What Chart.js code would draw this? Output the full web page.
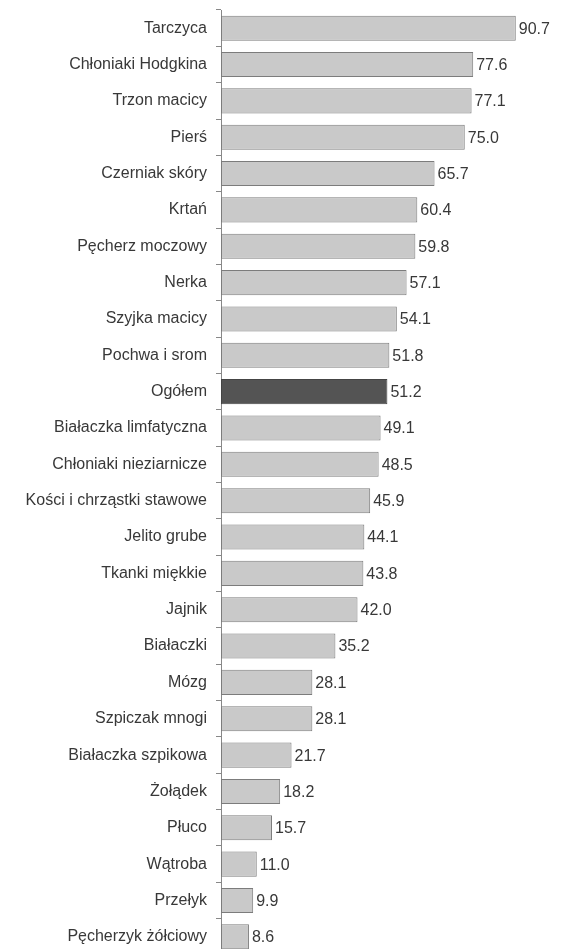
<!DOCTYPE html>
<html lang="pl">
<head>
<meta charset="UTF-8">
<title>Przeżycia 5-letnie</title>
<script src="https://cdn.jsdelivr.net/npm/chart.js"></script>
<style>
  html, body { margin: 0; padding: 0; background: #fff; overflow: hidden; }
  #chart { display: block; }
</style>
</head>
<body>
<canvas id="chart" width="561" height="962"></canvas>
<script>
// dane
const categories = [
  'Tarczyca', 'Chłoniaki Hodgkina', 'Trzon macicy', 'Pierś', 'Czerniak skóry',
  'Krtań', 'Pęcherz moczowy', 'Nerka', 'Szyjka macicy', 'Pochwa i srom',
  'Ogółem', 'Białaczka limfatyczna', 'Chłoniaki nieziarnicze', 'Kości i chrząstki stawowe',
  'Jelito grube', 'Tkanki miękkie', 'Jajnik', 'Białaczki', 'Mózg', 'Szpiczak mnogi',
  'Białaczka szpikowa', 'Żołądek', 'Płuco', 'Wątroba', 'Przełyk', 'Pęcherzyk żółciowy'
];
const values = [
  90.7, 77.6, 77.1, 75.0, 65.7, 60.4, 59.8, 57.1, 54.1, 51.8,
  51.2, 49.1, 48.5, 45.9, 44.1, 43.8, 42.0, 35.2, 28.1, 28.1,
  21.7, 18.2, 15.7, 11.0, 9.9, 8.6
];
const highlight = 'Ogółem';

const barLabels = {
  id: 'barLabels',
  afterDatasetsDraw(chart) {
    const ctx = chart.ctx;
    const meta = chart.getDatasetMeta(0);
    ctx.save();
    ctx.font = '16px "Liberation Sans", Arial, sans-serif';
    ctx.fillStyle = '#383838';
    ctx.textAlign = 'left';
    ctx.textBaseline = 'middle';
    meta.data.forEach((bar, i) => {
      ctx.fillText(values[i].toFixed(1), bar.x + 3, bar.y + 1);
    });
    ctx.restore();
  }
};

new Chart(document.getElementById('chart'), {
  type: 'bar',
  data: {
    labels: categories,
    datasets: [{
      data: values,
      backgroundColor: categories.map(c => c === highlight ? '#545454' : '#c9c9c9'),
      borderColor: categories.map(c => c === highlight ? '#444' : '#7c7c7c'),
      borderWidth: 1,
      borderSkipped: false,
      barPercentage: 0.69,
      categoryPercentage: 1
    }]
  },
  options: {
    indexAxis: 'y',
    responsive: false,
    animation: false,
    layout: { padding: { top: 10, right: 15, bottom: 7, left: 0 } },
    plugins: { legend: { display: false }, tooltip: { enabled: false } },
    scales: {
      x: { display: false, min: 0, max: 100 },
      y: {
        grid: { offset: true, drawOnChartArea: false, tickLength: 5, color: '#888', tickColor: '#888' },
        border: { color: '#888', width: 1 },
        ticks: {
          color: '#383838',
          padding: 9,
          font: { family: '"Liberation Sans", Arial, sans-serif', size: 16 }
        },
        afterFit(scale) {
          scale.width = 221;
          scale.paddingTop = 0;
          scale.paddingBottom = 0;
        }
      }
    }
  },
  plugins: [barLabels]
});
</script>
</body>
</html>
